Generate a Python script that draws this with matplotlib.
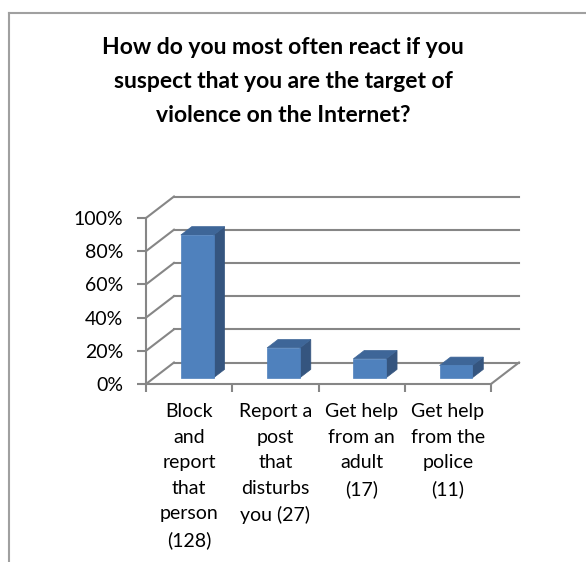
import matplotlib
matplotlib.use("Agg")
import matplotlib.pyplot as plt
from matplotlib.patches import Polygon
from matplotlib.lines import Line2D
from matplotlib.transforms import IdentityTransform

plt.rcParams["font.family"] = ["Lato", "DejaVu Sans"]

TITLE = "How do you most often react if you\nsuspect that you are the target of\nviolence on the Internet?"
categories = [
    "Block\nand\nreport\nthat\nperson\n(128)",
    "Report a\npost\nthat\ndisturbs\nyou (27)",
    "Get help\nfrom an\nadult\n(17)",
    "Get help\nfrom the\npolice\n(11)",
]
shares = [86.0, 18.0, 11.4, 7.4]          # percent of respondents
yticks = [0, 20, 40, 60, 80, 100]
ytick_labels = ["0%", "20%", "40%", "60%", "80%", "100%"]

GRID = "#868686"
FRONT, TOP, SIDE = "#4F81BD", "#3E6698", "#35557F"
DX, DY = 0.28, 0.215          # depth of the 3-D box, inches
D1, D2 = 0.29, 0.68           # bar depth slab (fraction of box depth)
BAR_W = 0.38

W, H = 586, 562
fig = plt.figure(figsize=(W / 100, H / 100), dpi=100)
ax = fig.add_axes([146 / W, (H - 384) / H, 345 / W, 166 / H])
ax.set_xlim(-0.5, len(categories) - 0.5)
ax.set_ylim(0, 100)
ax.set_autoscale_on(False)
ax.patch.set_visible(False)


def proj(x, y, d):
    px, py = ax.transData.transform((x, y))
    return px + d * DX * fig.dpi, py + d * DY * fig.dpi


def seg(p, q, **kw):
    ax.add_line(Line2D([p[0], q[0]], [p[1], q[1]], transform=IdentityTransform(),
                       clip_on=False, **kw))


def face(pts, color, z):
    ax.add_patch(Polygon(pts, closed=True, facecolor=color, edgecolor=color, lw=0.5,
                         transform=IdentityTransform(), clip_on=False, zorder=z))


x0, x1 = ax.get_xlim()
# back wall + side wall gridlines
for v in yticks:
    seg(proj(x0, v, 1), proj(x1, v, 1), color=GRID, lw=1.5, zorder=1)
    seg(proj(x0, v, 0), proj(x0, v, 1), color=GRID, lw=1.5, zorder=1)
# floor right edge
seg(proj(x1, 0, 0), proj(x1, 0, 1), color=GRID, lw=1.5, zorder=1)

# 3-D columns
for i, v in enumerate(shares):
    a, b = i - BAR_W / 2, i + BAR_W / 2
    face([proj(b, 0, D1), proj(b, 0, D2), proj(b, v, D2), proj(b, v, D1)], SIDE, 3)
    face([proj(a, v, D1), proj(b, v, D1), proj(b, v, D2), proj(a, v, D2)], TOP, 3)
    face([proj(a, 0, D1), proj(b, 0, D1), proj(b, v, D1), proj(a, v, D1)], FRONT, 4)

# front axes
for s in ("top", "right"):
    ax.spines[s].set_visible(False)
for s in ("left", "bottom"):
    ax.spines[s].set_color(GRID)
    ax.spines[s].set_linewidth(1.5)

ax.set_yticks(yticks)
ax.set_yticklabels(ytick_labels, fontsize=14)
ax.tick_params(axis="y", length=6.5, width=1.5, color=GRID, pad=10)

ax.set_xticks([k - 0.5 for k in range(len(categories) + 1)])
ax.set_xticklabels([])
ax.set_xticks(range(len(categories)), minor=True)
ax.set_xticklabels(categories, minor=True, fontsize=14, linespacing=1.6, ha="center")
ax.tick_params(axis="x", which="major", length=6, width=1.5, color=GRID)
ax.tick_params(axis="x", which="minor", length=0, pad=14)

fig.text(283 / W, 1 - 37 / H, TITLE, ha="center", va="top", fontsize=16.5,
         fontweight="bold", linespacing=1.75)

# chart frame
fig.add_artist(Line2D([9.5 / W, 1], [1 - 12.5 / H] * 2, color="#A0A0A0", lw=1.5,
                      transform=fig.transFigure))
fig.add_artist(Line2D([9.5 / W] * 2, [0, 1 - 12.5 / H], color="#A0A0A0", lw=1.5,
                      transform=fig.transFigure))

fig.savefig("out.png", dpi=100)
